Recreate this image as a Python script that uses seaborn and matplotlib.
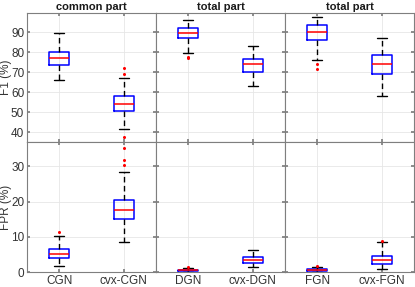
import numpy as np
import pandas as pd
import matplotlib
matplotlib.use("Agg")
import matplotlib.pyplot as plt
import seaborn as sns

# ---- data ----
methods = ["CGN", "cvx-CGN", "DGN", "cvx-DGN", "FGN", "cvx-FGN"]
column_titles = ["common part", "total part", "total part"]

# five-number summaries: lower whisker, Q1, median, Q3, upper whisker
f1_cgn = [65.9, 73.4, 77.2, 79.9, 89.4]
f1_cvx_cgn = [41.8, 50.9, 54.2, 58.2, 67.1]
f1_dgn = [79.3, 86.9, 89.6, 92.2, 95.8]
f1_cvx_dgn = [63.0, 70.2, 73.9, 76.8, 82.9]
f1_fgn = [76.0, 85.9, 90.0, 93.7, 97.6]
f1_cvx_fgn = [58.2, 68.9, 74.0, 78.5, 87.2]

fpr_cgn = [1.6, 4.0, 5.1, 6.6, 10.2]
fpr_cvx_cgn = [8.6, 15.1, 17.7, 20.6, 28.4]
fpr_dgn = [0.0, 0.3, 0.5, 0.7, 1.1]
fpr_cvx_dgn = [1.5, 2.6, 3.3, 4.3, 6.4]
fpr_fgn = [0.0, 0.4, 0.6, 0.9, 1.3]
fpr_cvx_fgn = [0.8, 2.2, 3.3, 4.7, 8.5]

# outliers
f1_out = {"cvx-CGN": [71.9, 69.1, 37.9], "DGN": [77.8, 77.3], "FGN": [74.3, 71.7]}
fpr_out = {"CGN": [11.4], "cvx-CGN": [30.5, 31.9, 35.3], "DGN": [1.4], "FGN": [1.7],
           "cvx-FGN": [8.7]}

f1_ticks = [40, 50, 60, 70, 80, 90]
fpr_ticks = [0, 10, 20, 30]

# ---- build tables ----
f1_stats = dict(zip(methods, [f1_cgn, f1_cvx_cgn, f1_dgn, f1_cvx_dgn, f1_fgn, f1_cvx_fgn]))
fpr_stats = dict(zip(methods, [fpr_cgn, fpr_cvx_cgn, fpr_dgn, fpr_cvx_dgn, fpr_fgn, fpr_cvx_fgn]))

def long_table(stats):
    rows = [(m, v) for m, vals in stats.items() for v in vals]
    return pd.DataFrame(rows, columns=["method", "value"])

df_f1 = long_table(f1_stats)
df_fpr = long_table(fpr_stats)
of1 = long_table(f1_out)
ofpr = long_table(fpr_out)

sns.set_theme(style="white")
plt.rcParams["font.family"] = ["Liberation Sans", "DejaVu Sans"]

fig, axes = plt.subplots(2, 3, figsize=(4.15, 2.87), dpi=100)
fig.subplots_adjust(left=0.065, right=0.998, top=0.955, bottom=0.052, wspace=0, hspace=0)

spine_col = "#7f7f7f"
text_col = "#333333"
for r, (df, odf, ticks, ylim, ylab) in enumerate([
        (df_f1, of1, f1_ticks, (35, 99.5), "F1 (%)"),
        (df_fpr, ofpr, fpr_ticks, (0, 36.8), "FPR (%)")]):
    for c in range(3):
        ax = axes[r, c]
        order = methods[2 * c: 2 * c + 2]
        sub = df[df["method"].isin(order)]
        osub = odf[odf["method"].isin(order)]
        sns.boxplot(data=sub, x="method", y="value", order=order, ax=ax,
                    whis=(0, 100), width=0.31, fill=False, color="blue",
                    linewidth=1.1, showfliers=False,
                    boxprops=dict(color="blue", linewidth=1.1),
                    medianprops=dict(color="red", linewidth=1.1),
                    whiskerprops=dict(color="black", linestyle=(0, (4, 2.5)), linewidth=1.0),
                    capprops=dict(color="black", linewidth=1.0))
        if len(osub):
            sns.stripplot(data=osub, x="method", y="value", order=order, ax=ax,
                          jitter=False, color="red", size=2.2, linewidth=0, zorder=3)
        ax.set_xlim(-0.5, 1.5)
        ax.set_ylim(*ylim)
        ax.set_yticks(ticks)
        ax.set_xlabel("")
        if c == 0:
            ax.set_ylabel(ylab, fontsize=8.5, color=text_col)
            ax.yaxis.set_label_coords(-0.118, 0.5)
        else:
            ax.set_ylabel("")
        ax.grid(True, color="#e6e6e6", linewidth=0.6)
        ax.set_axisbelow(True)
        ax.tick_params(axis="both", direction="in", length=2.5, color=spine_col,
                       labelsize=8.5, labelcolor=text_col, pad=2,
                       left=True, right=True, bottom=True, top=True)
        if c != 0:
            ax.tick_params(labelleft=False)
        if r == 0:
            ax.tick_params(labelbottom=False)
            ax.set_title(column_titles[c], fontsize=8, fontweight="bold", pad=2,
                         color="#1a1a1a")
        for s in ax.spines.values():
            s.set_color(spine_col)
            s.set_linewidth(0.8)

fig.savefig("out.png", dpi=100)
